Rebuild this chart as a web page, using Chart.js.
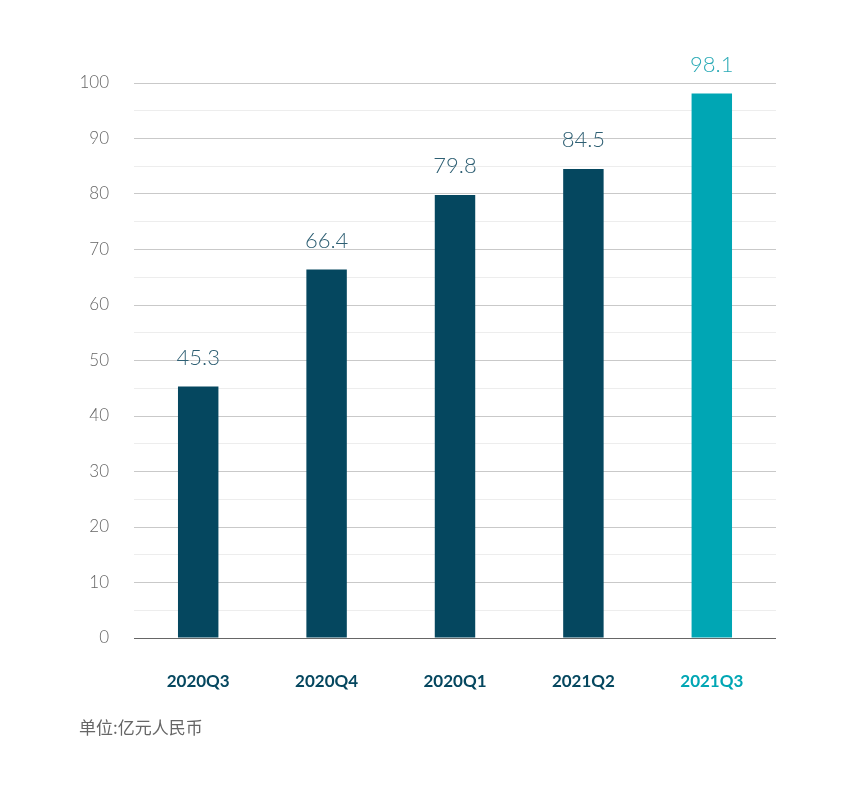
<!DOCTYPE html>
<html>
<head>
<meta charset="utf-8">
<script src="https://cdn.jsdelivr.net/npm/chart.js@4"></script>
<style>
  html, body { margin: 0; padding: 0; background: #fff; }
  #wrap { position: relative; width: 852px; height: 807px; }
  #note { position: absolute; left: 79px; top: 714px; font: 17px "Noto Sans CJK SC", sans-serif; color: #666; }
</style>
</head>
<body>
<div id="wrap">
  <canvas id="chart" width="852" height="807"></canvas>
  <div id="note">单位:亿元人民币</div>
</div>
<script>
// Chart data
const quarters = ['2020Q3', '2020Q4', '2020Q1', '2021Q2', '2021Q3'];
const revenue = [45.3, 66.4, 79.8, 84.5, 98.1];
const barColors = ['#05475f', '#05475f', '#05475f', '#05475f', '#00a6b4'];

// Draw value labels above each bar
const valueLabels = {
  id: 'valueLabels',
  afterDatasetsDraw(chart) {
    const ctx = chart.ctx;
    const meta = chart.getDatasetMeta(0);
    ctx.save();
    ctx.font = '300 22px Lato, sans-serif';
    ctx.textAlign = 'center';
    ctx.textBaseline = 'bottom';
    meta.data.forEach((bar, i) => {
      ctx.fillStyle = i === 4 ? '#2aaab6' : '#2e5f73';
      ctx.fillText(revenue[i].toFixed(1), bar.x, bar.y - 18);
    });
    ctx.restore();
  }
};

const ctx = document.getElementById('chart').getContext('2d');
new Chart(ctx, {
  type: 'bar',
  data: {
    labels: quarters,
    datasets: [{
      data: revenue,
      backgroundColor: barColors,
      barPercentage: 0.63,
      categoryPercentage: 0.5
    }]
  },
  options: {
    responsive: false,
    animation: false,
    layout: { padding: { top: 83, right: 76, left: 0, bottom: 0 } },
    plugins: { legend: { display: false }, tooltip: { enabled: false } },
    scales: {
      x: {
        grid: { display: false },
        border: { display: false },
        ticks: {
          padding: 25,
          font: { family: 'Lato', size: 17, weight: 'bold' },
          color: ctx => (ctx.index === 4 ? '#00a6b4' : '#05475f')
        },
        afterFit: scale => { scale.height = 169; }
      },
      y: {
        min: 0,
        max: 100,
        border: { display: false },
        grid: {
          drawTicks: false,
          lineWidth: 1,
          color: c => (c.tick.value === 0 ? '#666' : (c.tick.value % 10 === 0 ? '#c9c9c9' : '#ededed'))
        },
        ticks: {
          stepSize: 5,
          padding: 25,
          font: { family: 'Lato', size: 17, weight: '300' },
          color: '#666',
          callback: v => (v % 10 === 0 ? v : '')
        },
        afterFit: scale => { scale.width = 134; }
      }
    }
  },
  plugins: [valueLabels]
});
</script>
</body>
</html>
